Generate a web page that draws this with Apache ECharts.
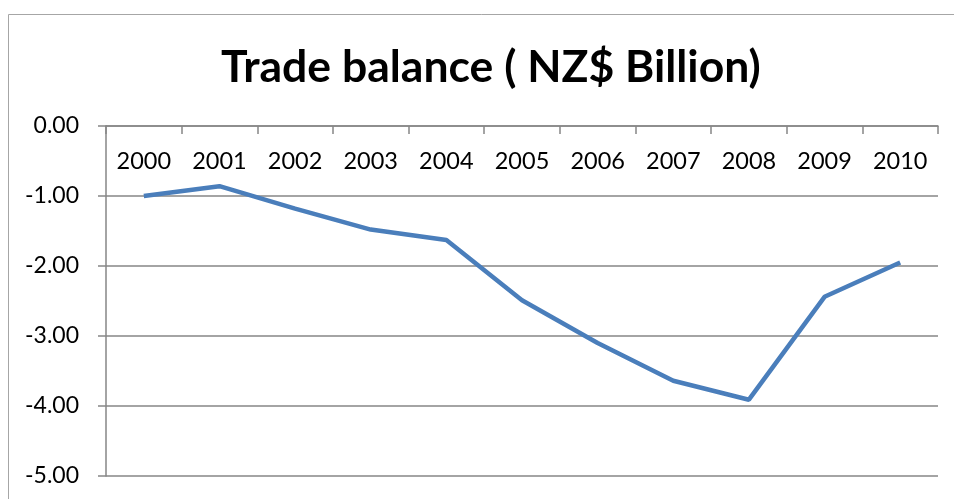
<!DOCTYPE html>
<html>
<head>
<meta charset="utf-8">
<script src="https://cdn.jsdelivr.net/npm/echarts@6/dist/echarts.min.js"></script>
<style>html,body{margin:0;padding:0;background:#fff;}#c{width:954px;height:499px;}</style>
</head>
<body>
<div id="c"></div>
<script>
const titleText = 'Trade balance ( NZ$ Billion)';
const years = ['2000','2001','2002','2003','2004','2005','2006','2007','2008','2009','2010'];
const tradeBalance = [-1.00, -0.86, -1.18, -1.48, -1.63, -2.49, -3.10, -3.64, -3.91, -2.44, -1.95];
const yMin = -5, yMax = 0, yStep = 1;

const chart = echarts.init(document.getElementById('c'));
chart.setOption({
  animation: false,
  backgroundColor: '#fff',
  textStyle: { fontFamily: 'Lato' },
  graphic: [{
    type: 'rect', shape: { x: 8.5, y: 14.5, width: 1000, height: 600 },
    style: { fill: 'none', stroke: '#a6a6a6', lineWidth: 1 }, silent: true
  }],
  title: {
    text: titleText, left: 216, top: 40,
    textStyle: { fontFamily: 'Lato', fontWeight: 'bold', fontSize: 44.5, color: '#000' }
  },
  grid: { left: 106, right: 16, top: 126, bottom: 23, containLabel: false },
  xAxis: {
    type: 'category', data: years, position: 'top', boundaryGap: true,
    axisLine: { show: true, onZero: false, lineStyle: { color: '#868686', width: 1.5 } },
    axisTick: { show: true, inside: true, length: 8, lineStyle: { color: '#868686', width: 1.5 } },
    axisLabel: { inside: true, margin: 23, color: '#000', fontSize: 23.5, fontFamily: 'Lato', verticalAlign: 'top' },
    splitLine: { show: false }
  },
  yAxis: {
    type: 'value', min: yMin, max: yMax, interval: yStep,
    axisLine: { show: true, lineStyle: { color: '#868686', width: 1.5 } },
    axisTick: { show: true, length: 8, lineStyle: { color: '#868686', width: 1.5 } },
    axisLabel: { color: '#000', fontSize: 23, fontFamily: 'Lato', margin: 27, formatter: v => v.toFixed(2) },
    splitLine: { show: true, lineStyle: { color: '#868686', width: 1.5 } }
  },
  series: [{
    type: 'line', data: tradeBalance, showSymbol: false, symbol: 'none',
    lineStyle: { color: '#4a7ebb', width: 4.5 }
  }]
});
</script>
</body>
</html>
